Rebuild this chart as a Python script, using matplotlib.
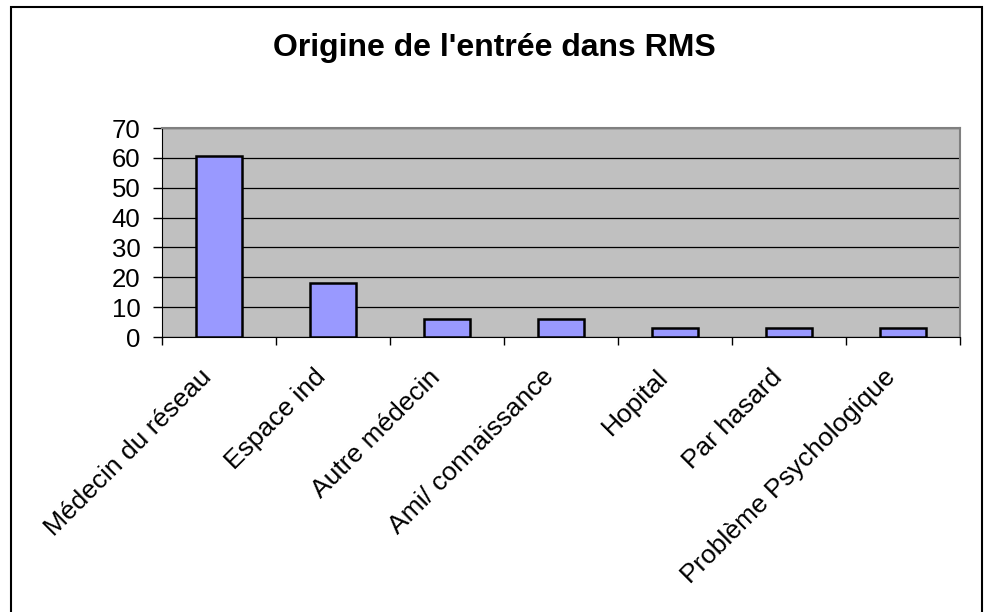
import matplotlib
matplotlib.use("Agg")
import matplotlib.pyplot as plt
import numpy as np
from matplotlib.patches import Rectangle

plt.rcParams['font.family'] = ['Liberation Sans', 'DejaVu Sans']

categories = ['Médecin du réseau', 'Espace ind', 'Autre médecin',
              'Ami/ connaissance', 'Hopital', 'Par hasard',
              'Problème Psychologique']
values = [60.6, 18.2, 6.1, 6.1, 3.0, 3.0, 3.0]
yticks = [0, 10, 20, 30, 40, 50, 60, 70]

fig = plt.figure(figsize=(9.89, 6.12), dpi=100)
# outer chart border (bottom edge falls outside the image, as in the source)
fig.patches.append(Rectangle((0.0111, -0.02), 0.982, 1.0086, transform=fig.transFigure,
                             fill=False, edgecolor='black', linewidth=1.5))

ax = fig.add_axes([0.1638, 0.4493, 0.807, 0.3415])
ax.set_facecolor('#C0C0C0')

x = np.arange(len(categories))
ax.bar(x, values, width=0.4, color='#9999FF', edgecolor='black', linewidth=1.8, zorder=3)

ax.set_xlim(-0.5, len(categories) - 0.5)
ax.set_ylim(0, 70)
ax.set_yticks(yticks)
ax.set_yticklabels([str(t) for t in yticks], fontsize=18.5)
ax.yaxis.grid(True, color='black', linewidth=0.9, zorder=1)
ax.set_axisbelow(True)

# category ticks sit between the bars
ax.set_xticks(np.arange(-0.5, len(categories)))
ax.set_xticklabels([])
ax.tick_params(axis='x', length=6, width=1, color='black', direction='out')
ax.tick_params(axis='y', length=6.5, width=1, color='black', direction='out', pad=9)

for i, lab in enumerate(categories):
    ax.annotate(lab, xy=(i - 0.17, 0), xycoords='data',
                xytext=(0, -20), textcoords='offset points',
                rotation=45, ha='right', va='top', rotation_mode='anchor',
                fontsize=19)

for side in ['top', 'right']:
    ax.spines[side].set_color('#808080')
    ax.spines[side].set_linewidth(1.5)
ax.spines['left'].set_color('black')
ax.spines['bottom'].set_color('black')

fig.text(0.5, 0.922, "Origine de l'entrée dans RMS", ha='center', va='center',
         fontsize=23, fontweight='bold')

fig.savefig('out.png', dpi=100)
